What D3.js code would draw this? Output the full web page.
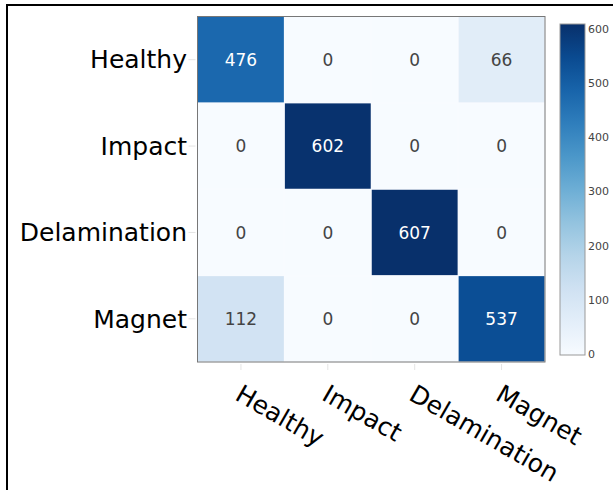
<!DOCTYPE html>
<html>
<head>
<meta charset="utf-8">
<script src="https://cdn.jsdelivr.net/npm/d3@7"></script>
<style>
  body { margin: 0; background: #fff; }
  svg { display: block; font-family: "DejaVu Sans", Verdana, sans-serif; }
</style>
</head>
<body>
<div id="container"></div>
<script>
// Data
var classes = ["Healthy", "Impact", "Delamination", "Magnet"];
var rowHealthy = [476, 0, 0, 66];
var rowImpact = [0, 602, 0, 0];
var rowDelamination = [0, 0, 607, 0];
var rowMagnet = [112, 0, 0, 537];
var colorTicks = [0, 100, 200, 300, 400, 500, 600];

var matrix = [rowHealthy, rowImpact, rowDelamination, rowMagnet];

var width = 613, height = 490;
var plot = { left: 197.5, right: 545, top: 16.5, bottom: 362 };

var svg = d3.select("#container")
  .append("svg")
  .attr("width", width)
  .attr("height", height);

// Moldura externa (só topo e esquerda aparecem)
svg.append("line")
  .attr("x1", 6).attr("x2", width)
  .attr("y1", 5).attr("y2", 5)
  .attr("stroke", "#000").attr("stroke-width", 2);
svg.append("line")
  .attr("x1", 7).attr("x2", 7)
  .attr("y1", 4).attr("y2", height)
  .attr("stroke", "#000").attr("stroke-width", 2);

// Escalas
var x = d3.scaleBand().domain(classes).range([plot.left, plot.right]);
var y = d3.scaleBand().domain(classes).range([plot.top, plot.bottom]);

var zMax = d3.max(matrix, function(r) { return d3.max(r); });
var color = d3.scaleSequential(d3.interpolateBlues).domain([0, zMax]);

var cells = [];
matrix.forEach(function(row, i) {
  row.forEach(function(v, j) {
    cells.push({ actual: classes[i], pred: classes[j], value: v });
  });
});

// Marcas de tick leves
svg.selectAll(".ytick")
  .data(classes)
  .enter().append("line")
  .attr("x1", plot.left - 9).attr("x2", plot.left - 2)
  .attr("y1", function(d) { return y(d) + y.bandwidth() / 2; })
  .attr("y2", function(d) { return y(d) + y.bandwidth() / 2; })
  .attr("stroke", "#e4e4e4");

svg.selectAll(".xtick")
  .data(classes)
  .enter().append("line")
  .attr("x1", function(d) { return x(d) + x.bandwidth() / 2; })
  .attr("x2", function(d) { return x(d) + x.bandwidth() / 2; })
  .attr("y1", plot.bottom + 2).attr("y2", plot.bottom + 8)
  .attr("stroke", "#e4e4e4");

// Fundo da área (os vãos entre células ficam claros)
svg.append("rect")
  .attr("x", plot.left).attr("y", plot.top)
  .attr("width", plot.right - plot.left)
  .attr("height", plot.bottom - plot.top)
  .attr("fill", "#f9fbff");

// Células
svg.selectAll(".cell")
  .data(cells)
  .enter().append("rect")
  .attr("class", "cell")
  .attr("x", function(d) { return x(d.pred) + 0.5; })
  .attr("y", function(d) { return y(d.actual) + 0.5; })
  .attr("width", x.bandwidth() - 1)
  .attr("height", y.bandwidth() - 1)
  .attr("fill", function(d) { return color(d.value); });

svg.selectAll(".cell-label")
  .data(cells)
  .enter().append("text")
  .attr("x", function(d) { return x(d.pred) + x.bandwidth() / 2; })
  .attr("y", function(d) { return y(d.actual) + y.bandwidth() / 2; })
  .attr("dy", "0.36em")
  .attr("text-anchor", "middle")
  .attr("font-size", 17)
  .attr("fill", function(d) { return d.value > 300 ? "#fff" : "#444"; })
  .text(function(d) { return d.value; });

// Borda da área do gráfico
svg.append("rect")
  .attr("x", plot.left).attr("y", plot.top)
  .attr("width", plot.right - plot.left)
  .attr("height", plot.bottom - plot.top)
  .attr("fill", "none")
  .attr("stroke", "#777")
  .attr("stroke-width", 1);

// Rótulos do eixo y
svg.selectAll(".ylabel")
  .data(classes)
  .enter().append("text")
  .attr("x", 187)
  .attr("y", function(d) { return y(d) + y.bandwidth() / 2; })
  .attr("dy", "0.35em")
  .attr("text-anchor", "end")
  .attr("font-size", 25)
  .attr("fill", "#000")
  .text(function(d) { return d; });

// Rótulos do eixo x (inclinados 30°)
svg.selectAll(".xlabel")
  .data(classes)
  .enter().append("text")
  .attr("transform", function(d) {
    return "translate(" + (x(d) + x.bandwidth() / 2 + 2) + "," + 383 + ") rotate(30)";
  })
  .attr("dy", 18.5)
  .attr("text-anchor", "start")
  .attr("font-size", 25)
  .attr("fill", "#000")
  .text(function(d) { return d; });

// Barra de cores
var cb = { x: 560, w: 25, top: 24, bottom: 355 };
var defs = svg.append("defs");
var grad = defs.append("linearGradient")
  .attr("id", "cbgrad")
  .attr("x1", 0).attr("y1", 1)
  .attr("x2", 0).attr("y2", 0);
d3.range(0, 1.0001, 0.1).forEach(function(t) {
  grad.append("stop")
    .attr("offset", t)
    .attr("stop-color", d3.interpolateBlues(t));
});

svg.append("rect")
  .attr("x", cb.x).attr("y", cb.top)
  .attr("width", cb.w).attr("height", cb.bottom - cb.top)
  .attr("fill", "url(#cbgrad)")
  .attr("stroke", "#999")
  .attr("stroke-width", 1);

var cbScale = d3.scaleLinear().domain([0, zMax]).range([cb.bottom - 1, cb.top + 1]);

var cbAxis = svg.append("g")
  .attr("transform", "translate(" + (cb.x + cb.w) + ",0)")
  .call(d3.axisRight(cbScale).tickValues(colorTicks).tickSize(0).tickPadding(3));

cbAxis.select(".domain").remove();
cbAxis.selectAll("text")
  .attr("font-family", "DejaVu Sans, Verdana, sans-serif")
  .attr("font-size", 11)
  .attr("fill", "#444");
</script>
</body>
</html>
